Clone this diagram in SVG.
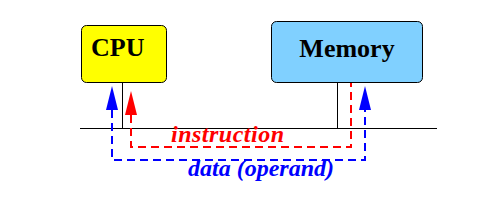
<svg xmlns="http://www.w3.org/2000/svg" width="497" height="203" viewBox="0 0 497 203">
<style>
.box{stroke:#000;stroke-width:1}
.lbl{font-family:"Liberation Serif","Times New Roman",serif;font-weight:bold;font-size:26px;fill:#000}
.bus{stroke:#000;stroke-width:1;fill:none}
.dash{fill:none;stroke-width:2;stroke-dasharray:8,5}
.tag{font-family:"Liberation Serif","Times New Roman",serif;font-weight:bold;font-style:italic;font-size:24px}
</style>
<defs>
<marker id="ab" viewBox="0 0 24 12" markerWidth="24" markerHeight="12" refX="0" refY="6" orient="auto-start-reverse" markerUnits="userSpaceOnUse">
<path d="M0,0 L24,6 L0,12 z" fill="#0000ff"/>
</marker>
<marker id="ar" viewBox="0 0 24 12" markerWidth="24" markerHeight="12" refX="0" refY="6" orient="auto-start-reverse" markerUnits="userSpaceOnUse">
<path d="M0,0 L24,6 L0,12 z" fill="#ff0000"/>
</marker>
</defs>
<rect width="497" height="203" fill="#fff"/>
<g id="cpu">
<rect class="box" x="81.5" y="25.5" width="85" height="57" rx="5" fill="#ffff00"/>
<text class="lbl" x="91" y="56">CPU</text>
</g>
<g id="memory">
<rect class="box" x="271.5" y="21.5" width="151" height="61" rx="5" fill="#80d0ff"/>
<text class="lbl" x="347" y="57" text-anchor="middle">Memory</text>
</g>
<g id="connectors">
<path class="bus" d="M80,128.5 H437 M122.5,83 V128 M337.5,83 V128"/>
<path class="dash" stroke="#ff0000" d="M131,115 V147 H351 V83" marker-start="url(#ar)"/>
<path class="dash" stroke="#0000ff" d="M112,110 V160 H365 V110" marker-start="url(#ab)" marker-end="url(#ab)"/>
<text class="tag" x="171" y="142" fill="#ff0000" textLength="113">instruction</text>
<text class="tag" x="188" y="176" fill="#0000ff">data (operand)</text>
</g>
</svg>
